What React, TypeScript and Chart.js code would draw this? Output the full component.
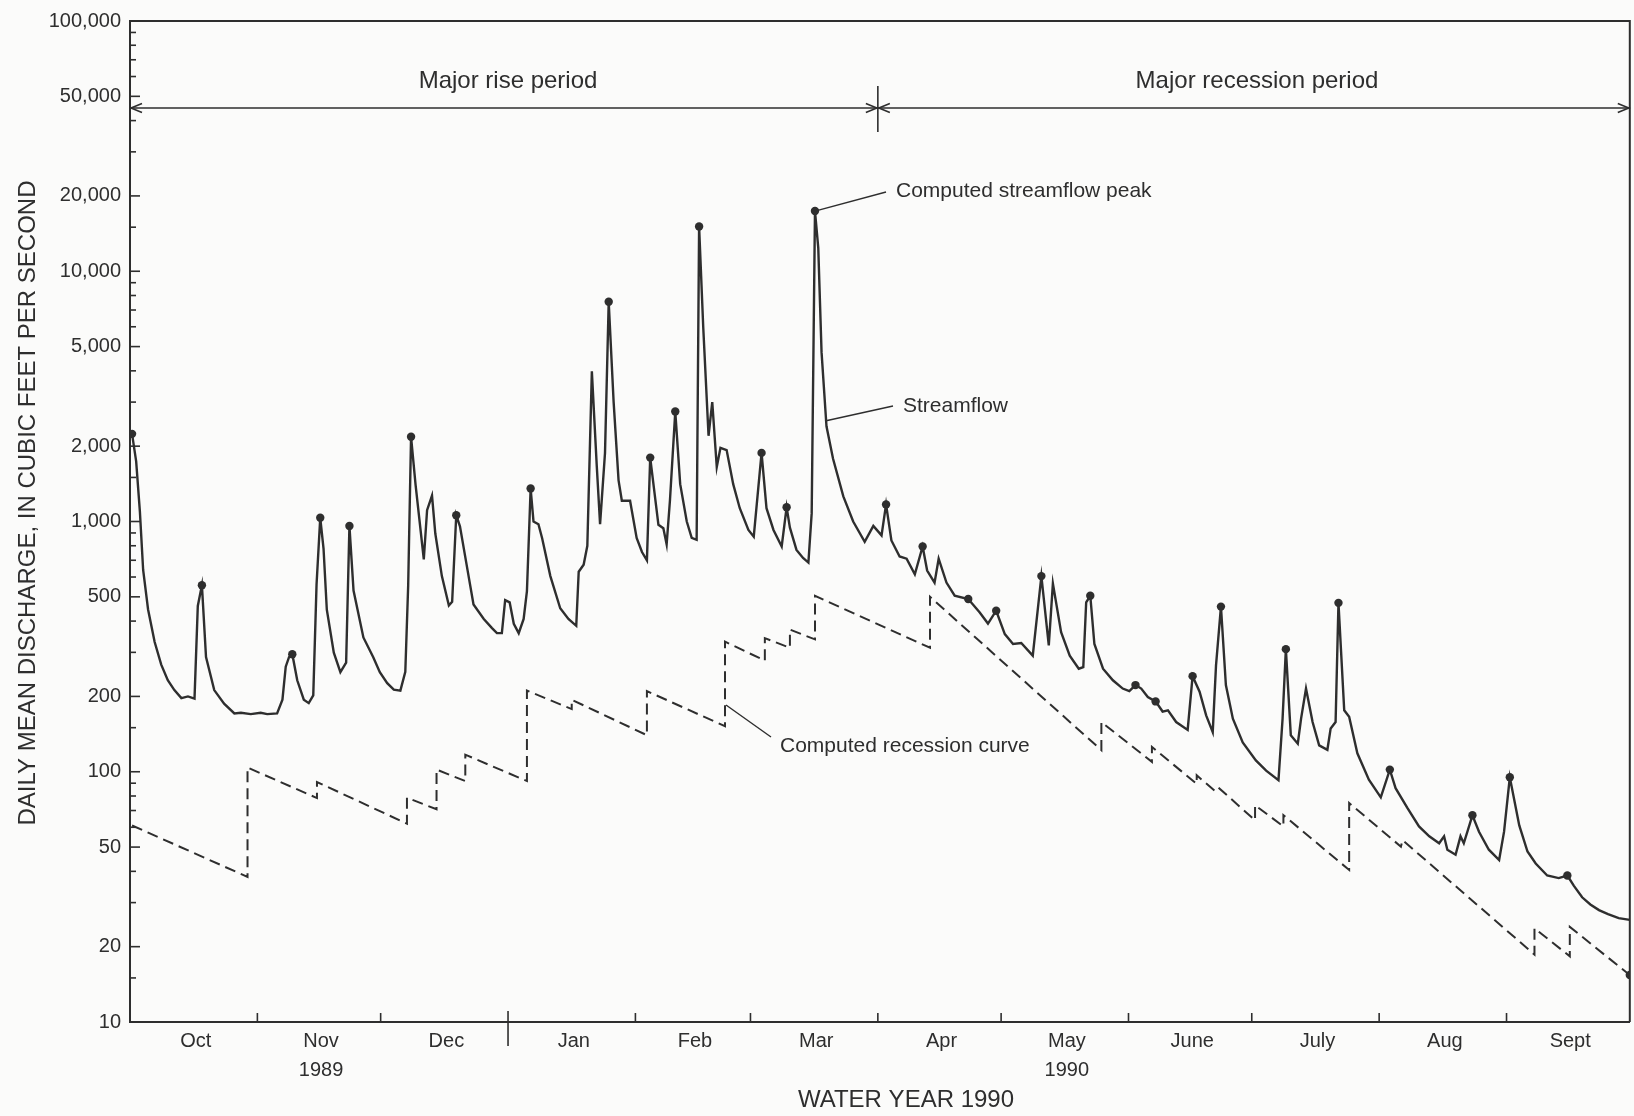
import React, { useEffect, useRef } from "react";
import { Chart, registerables } from "chart.js";

Chart.register(...registerables);

const W = 1634;
const H = 1116;
const BG = "#fbfbfa";
const INK = "#2e2e2e";
const FONT = '"Liberation Sans", Arial, Helvetica, sans-serif';

// Day index: 0 = start of Oct 1, 1989; 365 = end of Sept 30, 1990
const monthStarts = [0, 31, 61, 92, 123, 151, 182, 212, 243, 273, 304, 335, 365];
const monthLabels = ["Oct", "Nov", "Dec", "Jan", "Feb", "Mar", "Apr", "May", "June", "July", "Aug", "Sept"];
const yearLabels = ["", "1989", "", "", "", "", "", "1990", "", "", "", ""];
const yMajorTicks = [10, 20, 50, 100, 200, 500, 1000, 2000, 5000, 10000, 20000, 50000, 100000];
const yMinorTicks = [
  15, 30, 40, 60, 70, 80, 90,
  150, 300, 400, 600, 700, 800, 900,
  1500, 3000, 4000, 6000, 7000, 8000, 9000,
  15000, 30000, 40000, 60000, 70000, 80000, 90000,
];

// Streamflow (daily mean discharge, ft3/s)
const streamDays = [
  0.5, 1.5, 2.4, 3.2, 4.4, 6.0, 7.6, 9.2, 10.8, 12.5,
  14.1, 15.7, 16.5, 17.5, 18.5, 20.5, 22.9, 25.4, 27, 29.4,
  31.8, 33.4, 35.8, 37.1, 37.9, 38.7, 39.5, 40.7, 42.3, 43.5,
  44.6, 45.4, 46.3, 47.1, 47.9, 49.6, 51.2, 52.6, 53.4, 54.4,
  56.8, 59.2, 60.8, 62.6, 64.2, 65.8, 67.0, 67.7, 68.4, 69.5,
  71.5, 72.3, 73.5, 74.3, 75.9, 77.6, 78.4, 79.4, 80.3, 82,
  83.6, 86.1, 88.1, 89.3, 90.5, 91.3, 92.4, 93.4, 94.6, 95.8,
  96.6, 97.5, 98.2, 99.4, 100.3, 102.3, 104.7, 106.7, 108.6, 109.2,
  110.4, 111.3, 112.4, 113.6, 114.4, 115.6, 116.5, 117.7, 118.9, 119.7,
  121.7, 123.3, 124.6, 125.8, 126.6, 128.6, 129.8, 130.6, 131.4, 132.7,
  133.9, 135.5, 136.7, 137.9, 138.5, 139.5, 140.8, 141.7, 142.8, 143.7,
  145.2, 146.8, 148.4, 150.5, 151.8, 153.7, 154.9, 156.6, 158.6, 159.8,
  160.6, 162.2, 163.8, 165.1, 165.9, 166.7, 167.5, 168.3, 169.5, 171.1,
  173.6, 176, 178.8, 180.9, 182.9, 184, 185.3, 187.3, 189, 191,
  192.9, 194, 195.8, 196.8, 198.7, 200.7, 204, 206.8, 208.8, 210.8,
  212.9, 214.9, 216.9, 219.7, 221.8, 223.6, 224.6, 226.6, 228.7, 230.9,
  232, 232.7, 233.7, 234.7, 236.8, 239.2, 241.6, 243.2, 244.7, 246.1,
  247.7, 249.6, 251.3, 252.6, 254.6, 257.4, 258.6, 260.3, 261.9, 263.5,
  264.3, 265.5, 266.7, 268.4, 270.8, 274, 276.5, 279.5, 280.5, 281.3,
  282.5, 284.2, 285, 286.2, 287.8, 289.4, 291.4, 292.2, 293.4, 294.1,
  295.5, 296.7, 298.7, 301.5, 304.4, 306.6, 308, 310.9, 313.7, 316.2,
  318.6, 319.8, 320.6, 322.6, 323.8, 324.6, 326.7, 328.3, 330.7, 333.2,
  334.4, 335.8, 338.1, 340.1, 342.1, 344.9, 347.7, 349.8, 351.4, 353.4,
  355.4, 357.5, 359.7, 362.3, 365,
];
const streamFlow = [
  2240, 1740, 1100, 640, 445, 330, 268, 232, 212, 197,
  200, 196, 460, 556, 287, 212, 187, 171, 172, 170,
  172, 170, 171, 194, 263, 287, 295, 232, 194, 188,
  202, 560, 1035, 780, 444, 299, 250, 273, 960, 530,
  344, 287, 250, 226, 213, 211, 251, 555, 2180, 1400,
  705, 1110, 1270, 895, 605, 462, 478, 1060, 957, 660,
  466, 408, 375, 358, 358, 485, 475, 390, 358, 408,
  527, 1355, 1000, 975, 857, 605, 450, 408, 383, 630,
  672, 800, 3980, 1660, 975, 1880, 7550, 3000, 1460, 1210,
  1210, 860, 755, 700, 1800, 970, 940, 810, 1210, 2750,
  1410, 1000, 860, 845, 15100, 6000, 2200, 3000, 1650, 1970,
  1930, 1410, 1130, 925, 870, 1880, 1130, 925, 795, 1140,
  945, 770, 715, 685, 1080, 17400, 12400, 4750, 2400, 1780,
  1260, 1000, 830, 960, 880, 1170, 840, 725, 710, 615,
  795, 637, 570, 710, 570, 505, 490, 433, 391, 440,
  355, 324, 327, 291, 605, 320, 565, 361, 291, 258,
  262, 475, 505, 324, 258, 232, 215, 210, 222, 215,
  199, 191, 174, 176, 158, 147, 241, 209, 168, 144,
  266, 457, 222, 163, 131, 111, 101, 92.6, 163, 309,
  140, 129.5, 163, 215, 158, 127.5, 122.4, 149, 158, 473,
  176, 166, 118.5, 93, 79, 102, 86, 71.5, 60.5, 55.2,
  51.8, 55.2, 48.8, 46.6, 55.2, 51.8, 67, 57.6, 48.8, 44.4,
  57.6, 95, 61, 48, 43, 38.5, 37.6, 38.5, 35, 31.5,
  29.5, 28, 27, 26, 25.6,
];

// Computed streamflow peaks (dots)
const peakDays = [
  0.5, 17.5, 39.5, 46.3, 53.4, 68.4, 79.4, 97.5, 116.5, 126.6, 132.7, 138.5, 153.7, 159.8, 166.7,
  184, 192.9, 204, 210.8, 221.8, 233.7, 244.7, 249.6, 258.6, 265.5, 281.3, 294.1, 306.6, 326.7, 335.8, 349.8, 365,
];
const peakFlow = [
  2240, 556, 295, 1035, 960, 2180, 1060, 1355, 7550, 1800, 2750, 15100, 1880, 1140, 17400,
  1170, 795, 490, 440, 605, 505, 222, 191, 241, 457, 309, 473, 102, 67, 95, 38.5, 15.4,
];

// Computed recession curve (vertices)
const recDays = [
  0.5, 28.6, 28.6, 45.5, 45.5, 67.4, 67.4, 74.6, 74.6, 81.6,
  81.6, 96.6, 96.6, 107.5, 107.5, 125.8, 125.8, 144.8, 144.8, 154.5,
  154.5, 160.6, 160.6, 166.7, 166.7, 194.7, 194.7, 236.4, 236.4, 248.7,
  248.7, 259.6, 259.6, 264.3, 265.1, 273.8, 273.8, 280.7, 280.7, 296.7,
  296.7, 309.3, 309.7, 341.8, 341.8, 350.4, 350.4, 365,
];
const recFlow = [
  61, 38, 104, 78.5, 91, 62, 78.8, 70.8, 102, 91.8,
  117, 91.8, 211, 178, 194, 140, 210, 152, 331, 278,
  342, 313, 370, 338, 505, 313, 500, 122, 158, 109.5,
  125.6, 89.5, 96.8, 83.1, 85.8, 64, 73.5, 60.5, 67.1, 40.5,
  75, 50.2, 53.3, 18.6, 23.7, 18.3, 24, 15.4,
];

const pts = (xs: number[], ys: number[]) => xs.map((d, i) => ({ x: d, y: ys[i] }));

function seg(ctx: CanvasRenderingContext2D, x1: number, y1: number, x2: number, y2: number) {
  ctx.beginPath();
  ctx.moveTo(x1, y1);
  ctx.lineTo(x2, y2);
  ctx.stroke();
}

function arrowHead(ctx: CanvasRenderingContext2D, tipX: number, tipY: number, dir: number) {
  const len = 11;
  const half = 4.5;
  ctx.beginPath();
  ctx.moveTo(tipX - dir * len, tipY - half);
  ctx.lineTo(tipX, tipY);
  ctx.lineTo(tipX - dir * len, tipY + half);
  ctx.stroke();
}

const decor = {
  id: "decor",
  beforeDraw(chart: any) {
    const { ctx } = chart;
    ctx.save();
    ctx.fillStyle = BG;
    ctx.fillRect(0, 0, chart.width, chart.height);
    ctx.restore();
  },
  afterDraw(chart: any) {
    const { ctx, chartArea: a, scales } = chart;
    const x = scales.x;
    const y = scales.y;
    ctx.save();
    ctx.strokeStyle = INK;
    ctx.fillStyle = INK;
    ctx.lineCap = "butt";

    // frame top and right
    ctx.lineWidth = 2;
    ctx.beginPath();
    ctx.moveTo(a.left, a.top);
    ctx.lineTo(a.right, a.top);
    ctx.lineTo(a.right, a.bottom);
    ctx.stroke();

    // inner y ticks
    ctx.lineWidth = 1.6;
    for (const v of yMajorTicks) {
      const py = y.getPixelForValue(v);
      seg(ctx, a.left, py, a.left + 10, py);
    }
    for (const v of yMinorTicks) {
      const py = y.getPixelForValue(v);
      seg(ctx, a.left, py, a.left + 6, py);
    }
    // inner x ticks at month boundaries
    for (let i = 1; i < 12; i++) {
      const px = x.getPixelForValue(monthStarts[i]);
      if (monthStarts[i] === 92) {
        seg(ctx, px, a.bottom - 11, px, a.bottom + 24);
      } else {
        seg(ctx, px, a.bottom, px, a.bottom - 9);
      }
    }

    // period arrows
    const ay = 108;
    const xApr = x.getPixelForValue(182);
    ctx.lineWidth = 1.6;
    seg(ctx, a.left, ay, a.right, ay);
    seg(ctx, xApr, 86, xApr, 132);
    arrowHead(ctx, a.left + 1, ay, -1);
    arrowHead(ctx, xApr - 1, ay, 1);
    arrowHead(ctx, xApr + 1, ay, -1);
    arrowHead(ctx, a.right - 1, ay, 1);

    ctx.textBaseline = "middle";
    ctx.textAlign = "center";
    ctx.font = `24px ${FONT}`;
    ctx.fillText("Major rise period", 508, 81);
    ctx.fillText("Major recession period", 1257, 81);

    // leader lines and labels
    ctx.lineWidth = 1.4;
    const pkX = x.getPixelForValue(166.7);
    const pkY = y.getPixelForValue(17400);
    seg(ctx, pkX, pkY, 886, 192);
    seg(ctx, 825, 421, 893, 406);
    seg(ctx, 726, 705, 771, 737);
    ctx.textAlign = "left";
    ctx.font = `21px ${FONT}`;
    ctx.fillText("Computed streamflow peak", 896, 191);
    ctx.fillText("Streamflow", 903, 406);
    ctx.fillText("Computed recession curve", 780, 746);

    // axis titles
    ctx.font = `24px ${FONT}`;
    ctx.textAlign = "center";
    ctx.fillText("WATER YEAR 1990", 906, 1100);
    ctx.translate(28, 503);
    ctx.rotate(-Math.PI / 2);
    ctx.fillText("DAILY MEAN DISCHARGE, IN CUBIC FEET PER SECOND", 0, 0);
    ctx.restore();
  },
};

export default function App() {
  const ref = useRef<HTMLCanvasElement>(null);
  useEffect(() => {
    const canvas = ref.current;
    if (!canvas) return;
    const chart = new Chart(canvas, {
      type: "line",
      data: {
        datasets: [
          {
            label: "Streamflow",
            data: pts(streamDays, streamFlow),
            borderColor: INK,
            borderWidth: 2.4,
            pointRadius: 0,
            tension: 0,
            fill: false,
          },
          {
            label: "Computed recession curve",
            data: pts(recDays, recFlow),
            borderColor: INK,
            borderWidth: 2,
            borderDash: [11, 6],
            pointRadius: 0,
            tension: 0,
            fill: false,
          },
          {
            label: "Computed streamflow peak",
            data: pts(peakDays, peakFlow),
            showLine: false,
            pointRadius: 4.2,
            pointBackgroundColor: INK,
            pointBorderColor: INK,
            pointBorderWidth: 0,
          },
        ],
      },
      options: {
        responsive: false,
        animation: false,
        devicePixelRatio: 1,
        layout: { padding: { top: 18, right: 2, left: 0, bottom: 0 } },
        plugins: {
          legend: { display: false },
          tooltip: { enabled: false },
          title: { display: false },
        },
        scales: {
          x: {
            type: "linear",
            min: 0,
            max: 365,
            grid: { display: false, drawTicks: false },
            border: { display: true, color: INK, width: 2 },
            afterFit: (s: any) => {
              s.height = 94;
            },
            afterBuildTicks: (s: any) => {
              s.ticks = monthLabels.map((_, i) => ({ value: (monthStarts[i] + monthStarts[i + 1]) / 2 + 0.5 }));
            },
            ticks: {
              autoSkip: false,
              maxRotation: 0,
              minRotation: 0,
              padding: 5,
              color: INK,
              font: { family: FONT, size: 20, lineHeight: 1.45 },
              callback: (_v: any, i: number) => (yearLabels[i] ? [monthLabels[i], yearLabels[i]] : monthLabels[i]),
            },
          },
          y: {
            type: "logarithmic",
            min: 10,
            max: 100000,
            grid: { display: false, drawTicks: false },
            border: { display: true, color: INK, width: 2 },
            afterFit: (s: any) => {
              s.width = 130;
            },
            afterBuildTicks: (s: any) => {
              s.ticks = yMajorTicks.map((v) => ({ value: v }));
            },
            ticks: {
              autoSkip: false,
              padding: 9,
              color: INK,
              font: { family: FONT, size: 20 },
              callback: (v: any) => Number(v).toLocaleString("en-US"),
            },
          },
        },
      },
      plugins: [decor],
    });
    return () => chart.destroy();
  }, []);
  return (
    <div style={{ position: "fixed", left: 0, top: 0, width: W, height: H, background: BG }}>
      <canvas ref={ref} width={W} height={H} style={{ width: W, height: H, display: "block" }} />
    </div>
  );
}
